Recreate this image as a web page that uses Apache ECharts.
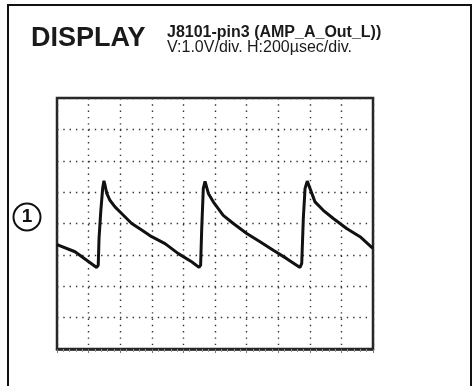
<!DOCTYPE html>
<html>
<head>
<meta charset="utf-8">
<script src="https://cdn.jsdelivr.net/npm/echarts@6/dist/echarts.min.js"></script>
<style>
  html, body { margin: 0; padding: 0; background: #fff; }
  #chart { width: 474px; height: 386px; }
</style>
</head>
<body>
<div id="chart"></div>
<script>
// scope trace: time in usec (200 usec/div), volts (1.0 V/div) from screen centre
const timeUs = [0, 114, 251, 261, 266, 277, 289, 297, 304, 315, 335, 367, 409, 473, 536, 599, 684, 768, 852, 899,
  909, 916, 926, 937, 958, 989, 1052, 1116, 1201, 1285, 1369, 1454, 1538,
  1549, 1559, 1570, 1584, 1601, 1633, 1685, 1749, 1833, 1918, 1992, 2000];
const volts = [-0.67, -0.9, -1.4, -1.33, -0.48, 0.38, 1.12, 1.36, 1.22, 0.96, 0.74, 0.53, 0.32, 0.0, -0.21, -0.42, -0.64, -0.96, -1.22, -1.4,
  -1.33, -0.16, 1.12, 1.34, 0.96, 0.69, 0.26, 0.0, -0.32, -0.58, -0.85, -1.12, -1.4,
  -1.27, 0.16, 1.12, 1.35, 1.12, 0.69, 0.42, 0.16, -0.16, -0.42, -0.76, -0.79];

const titleMain = "DISPLAY";
const titleProbe = "J8101-pin3 (AMP_A_Out_L))";
const titleScale = "V:1.0V/div. H:200\u00b5sec/div.";
const channelLabel = "1";

const chart = echarts.init(document.getElementById("chart"));

const dotted = {
  show: true,
  lineStyle: { color: "#333", width: 1.4, type: [1.4, 4.9], dashOffset: 0 }
};

chart.setOption({
  animation: false,
  backgroundColor: "#fff",
  grid: {
    left: 57,
    top: 98,
    width: 316,
    height: 251,
    show: true,
    borderColor: "#262626",
    borderWidth: 2.5,
    backgroundColor: "#fff"
  },
  xAxis: {
    type: "value",
    min: 0,
    max: 2000,
    interval: 200,
    axisLabel: { show: false },
    axisLine: { show: true, onZero: false, lineStyle: { color: "#262626", width: 2.5 } },
    axisTick: { show: true, inside: false, length: 4, lineStyle: { color: "#777", width: 1 } },
    minorTick: { show: true, splitNumber: 5, length: 3, lineStyle: { color: "#999", width: 1 } },
    splitLine: dotted
  },
  yAxis: {
    type: "value",
    min: -4,
    max: 4,
    interval: 1,
    axisLabel: { show: false },
    axisLine: { show: false },
    axisTick: { show: false },
    splitLine: dotted
  },
  graphic: [
    {
      type: "rect",
      shape: { x: 8, y: 5, width: 463, height: 420 },
      style: { fill: null, stroke: "#111", lineWidth: 2 },
      silent: true
    },
    {
      type: "text",
      left: 31,
      top: 25,
      style: { text: titleMain, font: "bold 27px 'Liberation Sans', Arial, sans-serif", fill: "#1a1a1a" }
    },
    {
      type: "text",
      left: 167,
      top: 25,
      style: { text: titleProbe, font: "bold 16px 'Liberation Sans', Arial, sans-serif", fill: "#1a1a1a" }
    },
    {
      type: "text",
      left: 167,
      top: 40,
      style: { text: titleScale, font: "16px 'Liberation Sans', Arial, sans-serif", fill: "#1a1a1a" }
    },
    {
      type: "circle",
      shape: { cx: 27, cy: 217, r: 13.5 },
      style: { fill: "#fff", stroke: "#111", lineWidth: 2 }
    },
    {
      type: "text",
      x: 27,
      y: 217,
      style: {
        text: channelLabel,
        font: "bold 19px 'Liberation Sans', Arial, sans-serif",
        fill: "#111",
        align: "center",
        verticalAlign: "middle"
      }
    }
  ],
  series: [
    {
      type: "line",
      data: timeUs.map((t, i) => [t, volts[i]]),
      showSymbol: false,
      smooth: false,
      lineStyle: { color: "#111", width: 3 },
      clip: true
    }
  ]
});
</script>
</body>
</html>
